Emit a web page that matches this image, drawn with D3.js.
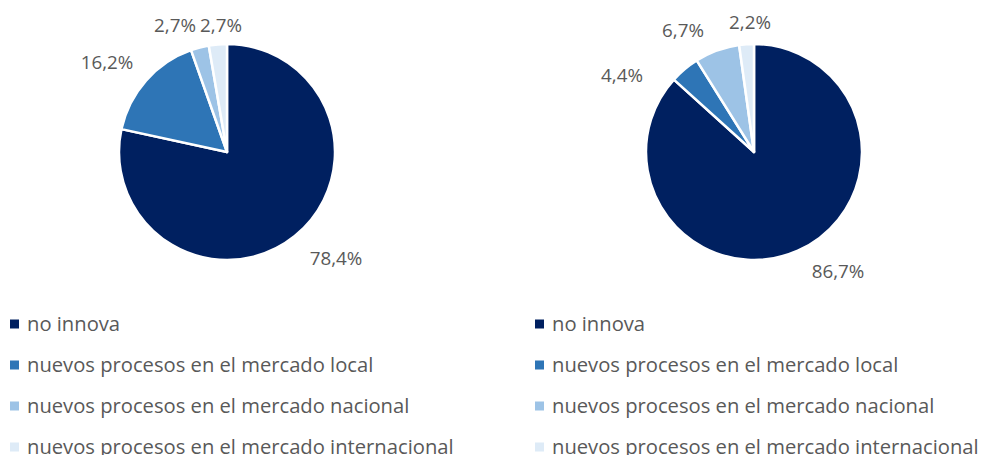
<!DOCTYPE html>
<html>
<head>
<meta charset="utf-8">
<script src="https://cdn.jsdelivr.net/npm/d3@7"></script>
<style>
  html, body { margin: 0; padding: 0; background: #fff; overflow: hidden; }
  svg { display: block; }
  text { font-family: "Open Sans", Lato, sans-serif; fill: #595959; }
</style>
</head>
<body>
<script>
// Categories shared by both pies
const categories = [
  "no innova",
  "nuevos procesos en el mercado local",
  "nuevos procesos en el mercado nacional",
  "nuevos procesos en el mercado internacional"
];
// Percentages for each pie
const leftValues = [78.4, 16.2, 2.7, 2.7];
const rightValues = [86.7, 4.4, 6.7, 2.2];
const colors = ["#002060", "#2e75b6", "#9dc3e6", "#deebf7"];

const W = 983, H = 455;
const svg = d3.select("body").append("svg").attr("width", W).attr("height", H);

const radius = 108;
const pie = d3.pie().sort(null).value(d => d);
const arc = d3.arc().innerRadius(0).outerRadius(radius);
const fmt = v => d3.format(".1f")(v).replace(".", ",") + "%";

// label placement relative to pie centre (best-fit style)
const charts = [
  { values: leftValues, cx: 227, cy: 152, legendX: 10,
    labelPos: [[109, 106], [-120, -90], [-52, -127], [-6, -127]] },
  { values: rightValues, cx: 754, cy: 152, legendX: 535,
    labelPos: [[84, 119], [-132, -77], [-71, -122], [-4, -130]] }
];

const color = d3.scaleOrdinal().domain(categories).range(colors);

charts.forEach(c => {
  const g = svg.append("g").attr("transform", `translate(${c.cx},${c.cy})`);
  const arcs = pie(c.values);
  g.selectAll("path").data(arcs).join("path")
    .attr("d", arc)
    .attr("fill", (d, i) => color(categories[i]))
    .attr("stroke", "#fff")
    .attr("stroke-width", 2.5)
    .attr("stroke-linejoin", "round");
  g.selectAll("text.lbl").data(arcs).join("text")
    .attr("class", "lbl")
    .attr("x", (d, i) => c.labelPos[i][0])
    .attr("y", (d, i) => c.labelPos[i][1])
    .attr("dy", "0.35em")
    .attr("text-anchor", "middle")
    .style("font-size", "18.8px")
    .text(d => fmt(d.data));

  // legend
  const lg = svg.append("g").attr("transform", `translate(${c.legendX},0)`);
  const rowY = d3.scalePoint().domain(categories).range([324, 447]);
  categories.forEach(cat => {
    lg.append("rect")
      .attr("x", 0).attr("y", rowY(cat) - 4.5)
      .attr("width", 9).attr("height", 9)
      .attr("fill", color(cat));
    lg.append("text")
      .attr("x", 17).attr("y", rowY(cat))
      .attr("dy", "0.35em")
      .style("font-size", "20.2px")
      .text(cat);
  });
});
</script>
</body>
</html>
